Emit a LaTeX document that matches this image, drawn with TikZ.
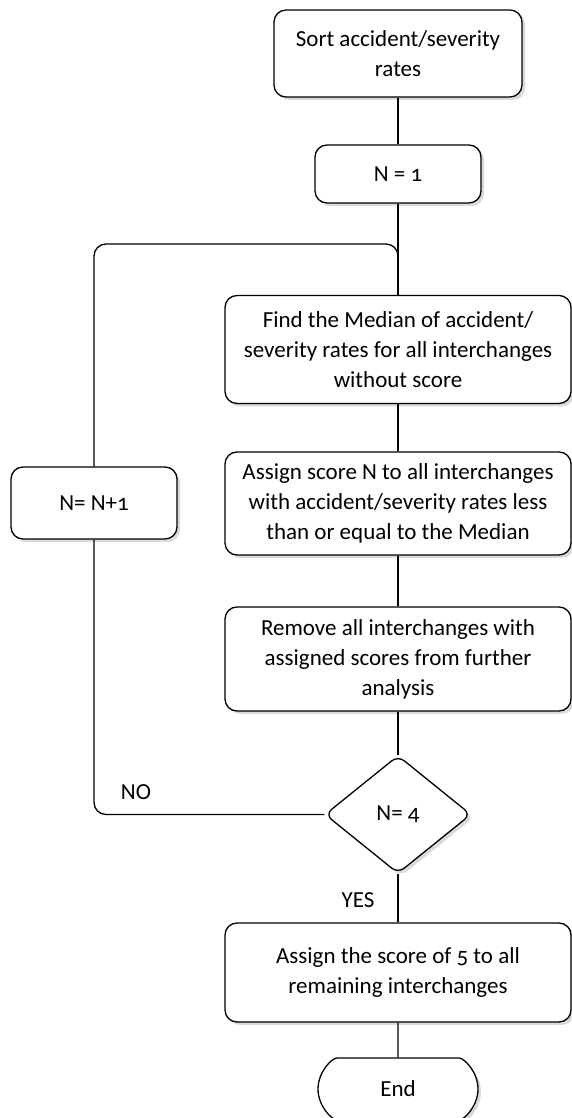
\documentclass[tikz,border=0pt]{standalone}
\usepackage{fontspec}
\setmainfont{Carlito}[Numbers=OldStyle]
\usetikzlibrary{shapes.geometric,shapes.misc,shadows}
\definecolor{myshadow}{RGB}{218,218,218}

\begin{document}
\begin{tikzpicture}[x=1pt,y=1pt,
    every node/.style={font=\fontsize{23}{30}\selectfont},
    mybox/.style={draw,line width=1.3pt,rounded corners=12pt,fill=white,
      align=center,inner sep=4pt,
      drop shadow={shadow xshift=3pt,shadow yshift=-3pt,fill=myshadow,opacity=1}},
    mydiamond/.style={mybox,diamond,rounded corners=8pt,inner sep=0pt,
      minimum width=146pt,minimum height=118pt},
    myend/.style={mybox,rounded rectangle,minimum width=168pt,minimum height=62pt},
    myline/.style={line width=1.3pt}]
    \useasboundingbox (0,0) rectangle (571,1118);

    % main column
    \node[mybox,minimum width=248pt,minimum height=87pt] (sort) at (398,1064.5)
      {Sort accident/severity\\rates};
    \node[mybox,minimum width=166pt,minimum height=58pt] (nstart) at (398,944)
      {N = 1};
    \node[mybox,minimum width=346pt,minimum height=108pt] (median) at (398,768.5)
      {Find the Median of accident/\\severity rates for all interchanges\\without score};
    \node[mybox,minimum width=346pt,minimum height=103pt] (assign) at (398,614.5)
      {Assign score N to all interchanges\\with accident/severity rates less\\than or equal to the Median};
    \node[mybox,minimum width=346pt,minimum height=104pt] (remove) at (398,459)
      {Remove all interchanges with\\assigned scores from further\\analysis};
    \node[mydiamond] (check) at (398,303.5) {N= 4};
    \node[mybox,minimum width=346pt,minimum height=99pt] (final) at (398,145.5)
      {Assign the score of 5 to all\\remaining interchanges};
    \node[myend] (stop) at (398,29) {End};

    % loop box
    \node[mybox,minimum width=166pt,minimum height=72pt] (incr) at (94,615)
      {N= N+1};
    \coordinate (looptop) at (398,874);

    \draw[myline] (sort) -- (nstart);
    \draw[myline] (nstart) -- (median);
    \draw[myline] (median) -- (assign);
    \draw[myline] (assign) -- (remove);
    \draw[myline] (remove) -- (check);
    \draw[myline] (check) -- (final);
    \draw[myline] (final) -- (stop);

    % NO branch back to the top
    \draw[myline,rounded corners=12pt] (check.west) -| (incr.south);
    \draw[myline,rounded corners=12pt] (incr.north) |- (looptop) -- (median.north);

    \node (no) at (136,326) {NO};
    \node (yes) at (358,218) {YES};
\end{tikzpicture}
\end{document}
